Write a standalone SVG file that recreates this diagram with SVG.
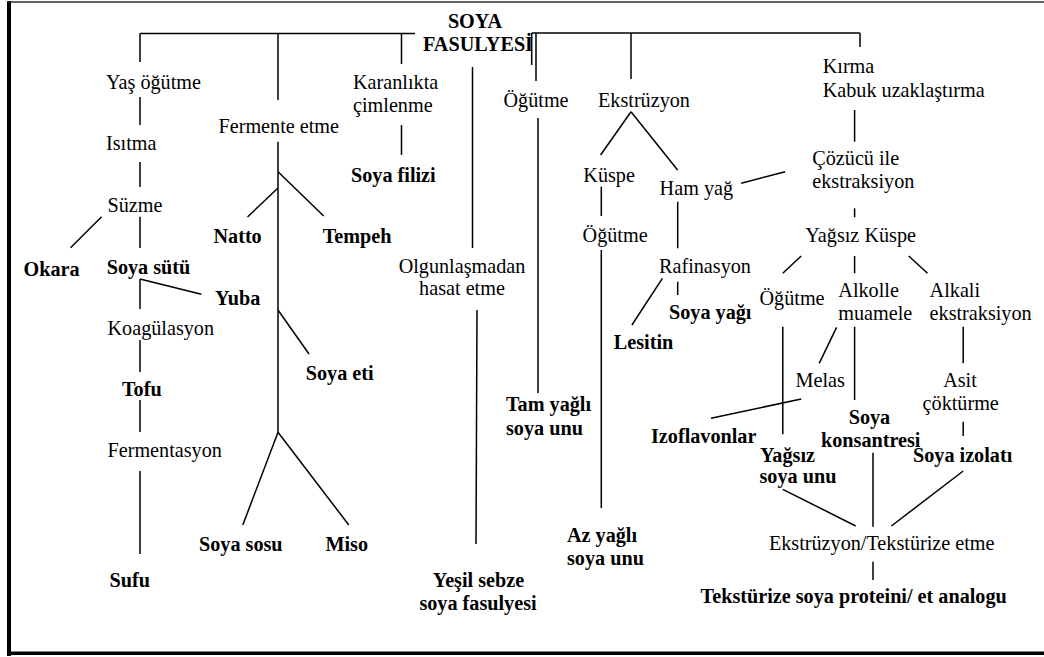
<svg xmlns="http://www.w3.org/2000/svg" width="1044" height="657" viewBox="0 0 1044 657" font-family="Liberation Serif, Times New Roman, serif">
<style>
text{font-size:20.2px;fill:#000}
.b{font-weight:bold}
.m{text-anchor:middle}
#connectors line{stroke:#000;stroke-width:1.5;fill:none}
</style>
<rect x="0" y="0" width="1044" height="657" fill="#fff"/>
<g id="frame">
<rect x="7" y="1" width="4" height="655" fill="#000"/>
<rect x="7" y="1.3" width="1037" height="1.4" fill="#222"/>
<rect x="7" y="651.5" width="1037" height="3.5" fill="#000"/>
</g>
<g id="connectors">
<line x1="140" y1="33.5" x2="415" y2="33.5"/>
<line x1="531.7" y1="33" x2="860" y2="33"/>
<line x1="140" y1="33.5" x2="140" y2="62"/>
<line x1="278" y1="33.5" x2="278" y2="100"/>
<line x1="401.5" y1="33.5" x2="401.5" y2="64"/>
<line x1="531.7" y1="33" x2="531.7" y2="65"/>
<line x1="536" y1="33" x2="536" y2="81"/>
<line x1="860" y1="33" x2="860" y2="47"/>
<line x1="631" y1="33" x2="631" y2="79"/>
<line x1="140" y1="97" x2="140" y2="125"/>
<line x1="140" y1="162" x2="140" y2="187"/>
<line x1="101.6" y1="216.7" x2="70.6" y2="247.7"/>
<line x1="140" y1="216.7" x2="140" y2="248"/>
<line x1="140" y1="279" x2="140" y2="309"/>
<line x1="140" y1="279" x2="201.4" y2="294.3"/>
<line x1="140" y1="340" x2="140" y2="372"/>
<line x1="140" y1="400" x2="140" y2="432"/>
<line x1="140" y1="471" x2="140" y2="554"/>
<line x1="278" y1="141.7" x2="278" y2="432.3"/>
<line x1="278" y1="171.7" x2="323.7" y2="216"/>
<line x1="278" y1="188" x2="247.5" y2="217"/>
<line x1="278" y1="310" x2="309" y2="354"/>
<line x1="278" y1="432.3" x2="242.8" y2="525"/>
<line x1="278" y1="432.3" x2="348.8" y2="525"/>
<line x1="401.5" y1="125" x2="401.5" y2="155"/>
<line x1="472.5" y1="67" x2="472.5" y2="248"/>
<line x1="477" y1="310" x2="476" y2="544"/>
<line x1="538" y1="118" x2="538" y2="393"/>
<line x1="631" y1="111.7" x2="600.6" y2="155"/>
<line x1="631" y1="111.7" x2="677.6" y2="170"/>
<line x1="601.3" y1="186.7" x2="601.3" y2="216"/>
<line x1="601.3" y1="250" x2="601.3" y2="508"/>
<line x1="677.7" y1="201.7" x2="677.7" y2="248.3"/>
<line x1="741.2" y1="183.3" x2="785.2" y2="171.7"/>
<line x1="854.6" y1="110" x2="854.6" y2="141.7"/>
<line x1="854.6" y1="208.3" x2="854.6" y2="217.3"/>
<line x1="662.4" y1="278.3" x2="631.9" y2="325"/>
<line x1="677.7" y1="281.7" x2="677.7" y2="295"/>
<line x1="801.2" y1="256" x2="782.8" y2="273.3"/>
<line x1="854.6" y1="256" x2="854.6" y2="273.3"/>
<line x1="908.7" y1="256" x2="927.5" y2="273.3"/>
<line x1="782.8" y1="326.7" x2="782.8" y2="434.3"/>
<line x1="836.6" y1="327.3" x2="819.2" y2="363.3"/>
<line x1="854.6" y1="326.7" x2="854.6" y2="400"/>
<line x1="963.2" y1="326.7" x2="963.2" y2="363.3"/>
<line x1="801.2" y1="399" x2="711" y2="418.3"/>
<line x1="963.2" y1="421.7" x2="963.2" y2="436"/>
<line x1="782.8" y1="489.3" x2="855.7" y2="526"/>
<line x1="873" y1="452.7" x2="873" y2="526.7"/>
<line x1="963.2" y1="471" x2="891.4" y2="526"/>
<line x1="873" y1="561.7" x2="873" y2="580"/>
</g>
<g id="n-soya-fasulyesi"><text class="b m" x="475" y="28">SOYA</text><text class="b m" x="478" y="51">FASULYESİ</text></g>
<g id="n-yas-ogutme"><text x="106" y="89">Yaş öğütme</text></g>
<g id="n-isitma"><text x="106" y="150">Isıtma</text></g>
<g id="n-suzme"><text x="107.5" y="212">Süzme</text></g>
<g id="n-okara"><text class="b" x="23.5" y="276">Okara</text></g>
<g id="n-soya-sutu"><text class="b" x="106.7" y="274">Soya sütü</text></g>
<g id="n-yuba"><text class="b" x="215" y="305">Yuba</text></g>
<g id="n-koagulasyon"><text x="107.5" y="335">Koagülasyon</text></g>
<g id="n-tofu"><text class="b" x="122" y="396">Tofu</text></g>
<g id="n-fermentasyon"><text x="107.5" y="456.7">Fermentasyon</text></g>
<g id="n-sufu"><text class="b" x="109.5" y="586.7">Sufu</text></g>
<g id="n-fermente-etme"><text x="218.5" y="133">Fermente etme</text></g>
<g id="n-natto"><text class="b" x="213.5" y="242.7">Natto</text></g>
<g id="n-tempeh"><text class="b" x="322.7" y="242.7">Tempeh</text></g>
<g id="n-soya-eti"><text class="b" x="305.8" y="380">Soya eti</text></g>
<g id="n-soya-sosu"><text class="b" x="199" y="550.7">Soya sosu</text></g>
<g id="n-miso"><text class="b" x="325.4" y="550.7">Miso</text></g>
<g id="n-karanlikta"><text x="353" y="89">Karanlıkta</text><text x="353" y="111.7">çimlenme</text></g>
<g id="n-soya-filizi"><text class="b" x="351" y="181.7">Soya filizi</text></g>
<g id="n-olgunlasmadan"><text class="m" x="462" y="273">Olgunlaşmadan</text><text class="m" x="462" y="295">hasat etme</text></g>
<g id="n-yesil-sebze"><text class="b m" x="478.5" y="586.7">Yeşil sebze</text><text class="b m" x="478" y="610">soya fasulyesi</text></g>
<g id="n-ogutme1"><text x="503.5" y="106.7">Öğütme</text></g>
<g id="n-tam-yagli"><text class="b" x="506" y="410.7">Tam yağlı</text><text class="b" x="506" y="435">soya unu</text></g>
<g id="n-ekstruzyon"><text x="598" y="106.7">Ekstrüzyon</text></g>
<g id="n-kuspe"><text x="583.3" y="181.7">Küspe</text></g>
<g id="n-ogutme2"><text x="582.6" y="241.7">Öğütme</text></g>
<g id="n-az-yagli"><text class="b" x="567" y="541.7">Az yağlı</text><text class="b" x="567" y="565">soya unu</text></g>
<g id="n-ham-yag"><text x="659.6" y="195">Ham yağ</text></g>
<g id="n-rafinasyon"><text x="659" y="272.7">Rafinasyon</text></g>
<g id="n-soya-yagi"><text class="b" x="669" y="319.3">Soya yağı</text></g>
<g id="n-lesitin"><text class="b" x="613.8" y="349.3">Lesitin</text></g>
<g id="n-kirma"><text x="822.7" y="73.3">Kırma</text><text x="822.7" y="96.7">Kabuk uzaklaştırma</text></g>
<g id="n-cozucu"><text x="812.3" y="165">Çözücü ile</text><text x="812.3" y="188.3">ekstraksiyon</text></g>
<g id="n-yagsiz-kuspe"><text x="805.3" y="241.7">Yağsız Küspe</text></g>
<g id="n-ogutme3"><text x="759.5" y="305">Öğütme</text></g>
<g id="n-alkolle"><text x="838.3" y="297.3">Alkolle</text><text x="838.3" y="320">muamele</text></g>
<g id="n-alkali"><text x="929.6" y="297.3">Alkali</text><text x="929.6" y="320">ekstraksiyon</text></g>
<g id="n-melas"><text x="795.6" y="386.7">Melas</text></g>
<g id="n-asit"><text class="m" x="960" y="386.7">Asit</text><text x="922.6" y="410">çöktürme</text></g>
<g id="n-izoflavonlar"><text class="b" x="651" y="442.7">Izoflavonlar</text></g>
<g id="n-soya-konsantresi"><text class="b" x="848.7" y="424">Soya</text><text class="b" x="821" y="446.7">konsantresi</text></g>
<g id="n-yagsiz-soya-unu"><text class="b" x="760" y="461.7">Yağsız</text><text class="b" x="759.5" y="483.3">soya unu</text></g>
<g id="n-soya-izolati"><text class="b" x="913" y="461.7">Soya izolatı</text></g>
<g id="n-ekstruzyon-tekst"><text x="768.9" y="550">Ekstrüzyon/Tekstürize etme</text></g>
<g id="n-tekst-protein"><text class="b" x="700.6" y="603.3">Tekstürize soya proteini/ et analogu</text></g>
</svg>
